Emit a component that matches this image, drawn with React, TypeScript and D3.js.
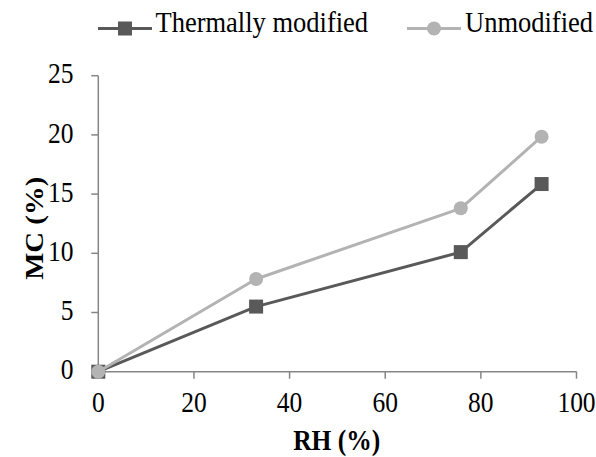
import React from "react";
import * as d3 from "d3";

const rh = [0, 33, 75.8, 92.7];
const thermallyModified = [0, 5.5, 10.1, 15.85];
const unmodified = [0, 7.83, 13.8, 19.85];
const xTicks = [0, 20, 40, 60, 80, 100];
const yTicks = [0, 5, 10, 15, 20, 25];
const seriesNames = ["Thermally modified", "Unmodified"];

const W = 596;
const H = 457;
const FONT = "Liberation Serif";
const DARK = "#595959";
const LIGHT = "#b3b3b3";
const AXIS = "#868686";
const SY = 1.13;

function T({
  x,
  y,
  children,
  anchor = "start",
  size = 25.5,
  bold = false,
  rotate = 0,
}: {
  x: number;
  y: number;
  children: React.ReactNode;
  anchor?: string;
  size?: number;
  bold?: boolean;
  rotate?: number;
}) {
  return (
    <g transform={`translate(${x},${y}) scale(1,${SY}) rotate(${rotate})`}>
      <text
        x={0}
        y={0}
        textAnchor={anchor}
        fill="#000"
        style={{ fontFamily: FONT, fontSize: `${size}px`, fontWeight: bold ? "bold" : "normal" }}
      >
        {children}
      </text>
    </g>
  );
}

export default function App() {
  const x = d3.scaleLinear().domain([0, 100]).range([98.3, 576.5]);
  const y = d3.scaleLinear().domain([0, 25]).range([371.7, 75.7]);
  const line = d3
    .line<[number, number]>()
    .x((d) => x(d[0]))
    .y((d) => y(d[1]));
  const tm: [number, number][] = rh.map((r, i) => [r, thermallyModified[i]]);
  const um: [number, number][] = rh.map((r, i) => [r, unmodified[i]]);

  return (
    <svg
      width={W}
      height={H}
      style={{ position: "absolute", left: 0, top: 0, background: "#fff" }}
    >
      {/* axes */}
      <line x1={x(0)} x2={x(0)} y1={y(0)} y2={y(25)} stroke={AXIS} strokeWidth={1.5} />
      <line x1={x(0)} x2={x(100)} y1={y(0)} y2={y(0)} stroke={AXIS} strokeWidth={1.5} />
      {yTicks.map((t) => (
        <g key={"y" + t}>
          <line x1={x(0) - 7} x2={x(0)} y1={y(t)} y2={y(t)} stroke={AXIS} strokeWidth={1.5} />
          <T x={73.5} y={y(t) + 7.6} anchor="end">
            {t}
          </T>
        </g>
      ))}
      {xTicks.map((t) => (
        <g key={"x" + t}>
          <line x1={x(t)} x2={x(t)} y1={y(0)} y2={y(0) + 7} stroke={AXIS} strokeWidth={1.5} />
          <T x={x(t)} y={411.7} anchor="middle">
            {t}
          </T>
        </g>
      ))}
      <T x={336.7} y={449.5} anchor="middle" bold>
        RH (%)
      </T>
      <T x={42.5} y={228.3} anchor="middle" bold rotate={-90}>
        MC (%)
      </T>

      {/* series */}
      <path d={line(tm) || ""} fill="none" stroke={DARK} strokeWidth={3} strokeLinejoin="round" />
      {tm.map((d, i) => (
        <rect key={"s" + i} x={x(d[0]) - 7} y={y(d[1]) - 7} width={14} height={14} fill={DARK} />
      ))}
      <path d={line(um) || ""} fill="none" stroke={LIGHT} strokeWidth={3} strokeLinejoin="round" />
      {um.map((d, i) => (
        <circle key={"c" + i} cx={x(d[0])} cy={y(d[1])} r={7} fill={LIGHT} />
      ))}

      {/* legend */}
      <g>
        <line x1={98} x2={152} y1={28.5} y2={28.5} stroke={DARK} strokeWidth={3} />
        <rect x={118} y={21.5} width={14} height={14} fill={DARK} />
        <T x={155.5} y={31.7} size={26.5}>
          {seriesNames[0]}
        </T>
        <line x1={407} x2={461} y1={28.5} y2={28.5} stroke={LIGHT} strokeWidth={3} />
        <circle cx={434} cy={28.5} r={7} fill={LIGHT} />
        <T x={465} y={31.7} size={26.5}>
          {seriesNames[1]}
        </T>
      </g>
    </svg>
  );
}
